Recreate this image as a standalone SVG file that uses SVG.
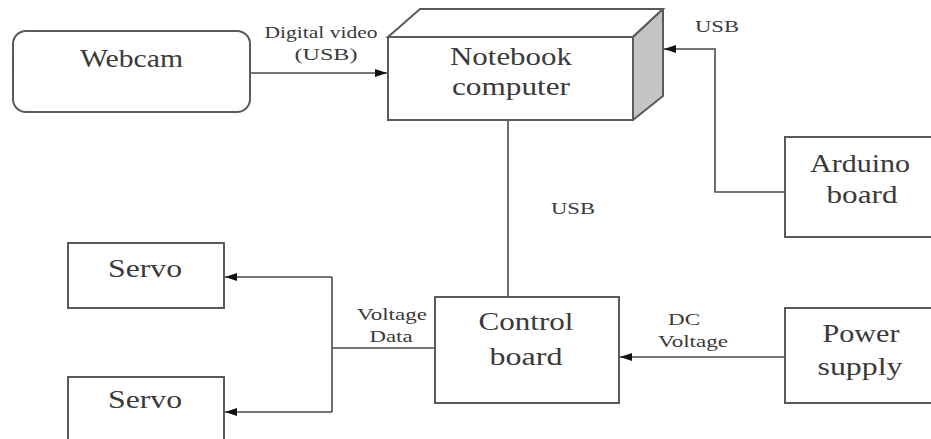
<svg xmlns="http://www.w3.org/2000/svg" width="931" height="439" viewBox="0 0 931 439">
<style>
.box{fill:#fff;stroke:#5a5a5a;stroke-width:2}
.side{fill:#c4c4c4;stroke:#5a5a5a;stroke-width:2;stroke-linejoin:round}
.lbl{font-size:25px;fill:#3a3a3a;text-anchor:middle}
.sm{font-size:16px;fill:#3a3a3a;text-anchor:middle}
.ln{fill:none;stroke:#4a4a4a;stroke-width:1.6}
</style>
<defs>
<marker id="ah" viewBox="0 0 12 8" refX="12" refY="4" markerWidth="12" markerHeight="8" markerUnits="userSpaceOnUse" orient="auto">
<path d="M0,0 L12,4 L0,8 Z" fill="#111"/>
</marker>
</defs>
<rect width="931" height="439" fill="#fff"/>
<g id="connectors" font-family="Liberation Serif, DejaVu Serif, serif">
<line class="ln" x1="250" y1="73" x2="387" y2="73" marker-end="url(#ah)"/>
<polyline class="ln" points="785,192 715,192 715,49 664,49" marker-end="url(#ah)"/>
<line class="ln" x1="508" y1="121" x2="508" y2="297"/>
<line class="ln" x1="435" y1="348" x2="332" y2="348"/>
<polyline class="ln" points="332,277 332,412"/>
<line class="ln" x1="332" y1="277" x2="225" y2="277" marker-end="url(#ah)"/>
<line class="ln" x1="332" y1="412" x2="225" y2="412" marker-end="url(#ah)"/>
<line class="ln" x1="785" y1="357" x2="620" y2="357" marker-end="url(#ah)"/>
<text class="sm" x="321" y="38" textLength="113" lengthAdjust="spacingAndGlyphs">Digital video</text>
<text class="sm" x="326" y="60" textLength="63" lengthAdjust="spacingAndGlyphs">(USB)</text>
<text class="sm" x="717" y="32" textLength="44" lengthAdjust="spacingAndGlyphs">USB</text>
<text class="sm" x="573" y="214" textLength="44" lengthAdjust="spacingAndGlyphs">USB</text>
<text class="sm" x="392" y="320" textLength="70" lengthAdjust="spacingAndGlyphs">Voltage</text>
<text class="sm" x="391" y="342" textLength="43" lengthAdjust="spacingAndGlyphs">Data</text>
<text class="sm" x="684" y="325" textLength="32" lengthAdjust="spacingAndGlyphs">DC</text>
<text class="sm" x="693" y="347" textLength="70" lengthAdjust="spacingAndGlyphs">Voltage</text>
</g>
<g font-family="Liberation Serif, DejaVu Serif, serif">
<g id="webcam">
<rect class="box" x="13" y="31" width="237" height="81" rx="13"/>
<text class="lbl" x="131.5" y="67" textLength="103" lengthAdjust="spacingAndGlyphs">Webcam</text>
</g>
<g id="notebook">
<polygon class="box" points="388,37 420,9 663,9 633,37"/>
<polygon class="side" points="633,37 663,9 663,96 633,120"/>
<rect class="box" x="388" y="37" width="245" height="83"/>
<text class="lbl" x="511" y="65" textLength="122" lengthAdjust="spacingAndGlyphs">Notebook</text>
<text class="lbl" x="511" y="95" textLength="118" lengthAdjust="spacingAndGlyphs">computer</text>
</g>
<g id="arduino">
<rect class="box" x="785" y="137" width="150" height="100"/>
<text class="lbl" x="860" y="172" textLength="100" lengthAdjust="spacingAndGlyphs">Arduino</text>
<text class="lbl" x="862" y="203" textLength="71" lengthAdjust="spacingAndGlyphs">board</text>
</g>
<g id="servo1">
<rect class="box" x="68" y="243" width="156" height="65"/>
<text class="lbl" x="145" y="277" textLength="74" lengthAdjust="spacingAndGlyphs">Servo</text>
</g>
<g id="servo2">
<rect class="box" x="68" y="377" width="156" height="70"/>
<text class="lbl" x="145" y="408" textLength="74" lengthAdjust="spacingAndGlyphs">Servo</text>
</g>
<g id="control">
<rect class="box" x="435" y="297" width="184" height="106"/>
<text class="lbl" x="526" y="330" textLength="95" lengthAdjust="spacingAndGlyphs">Control</text>
<text class="lbl" x="526" y="365" textLength="73" lengthAdjust="spacingAndGlyphs">board</text>
</g>
<g id="power">
<rect class="box" x="785" y="308" width="150" height="95"/>
<text class="lbl" x="861" y="342" textLength="77" lengthAdjust="spacingAndGlyphs">Power</text>
<text class="lbl" x="860" y="375" textLength="85" lengthAdjust="spacingAndGlyphs">supply</text>
</g>
</g>
</svg>
